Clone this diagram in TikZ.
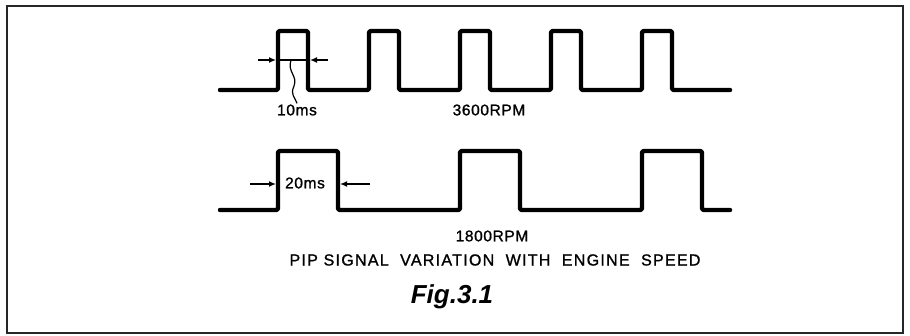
\documentclass[tikz,border=0pt]{standalone}
\usepackage{fontspec}
\setmainfont{Liberation Sans}
\usetikzlibrary{arrows.meta, positioning}

\begin{document}
\begin{tikzpicture}[
        x=1pt,
        y=-1pt,
        frameBox/.style={line width=2.4pt, black!85},
        pulseLine/.style={line width=4.4pt, rounded corners=2pt, line join=round, line cap=round},
        dimLine/.style={line width=1.3pt},
        dimArrow/.style={dimLine, -{Latex[length=7pt, width=6pt]}},
        leader/.style={line width=1.2pt},
        smallLabel/.style={inner sep=1pt, font=\fontsize{15.5}{18}\selectfont\addfontfeature{LetterSpace=4, FakeBold=1.2}},
        titleLabel/.style={inner sep=1pt, font=\fontsize{16}{19}\selectfont\addfontfeature{LetterSpace=8, FakeBold=1.2}},
        figLabel/.style={inner sep=1pt, font=\fontsize{26}{30}\selectfont\bfseries\itshape}
    ]
        \useasboundingbox (0,0) rectangle (910,336);
        \draw[frameBox] (7,6) rectangle (903,333);

        \draw[pulseLine] (220,90) foreach \k in {0,...,4} {
            -- ({278+91*\k},90) -- ({278+91*\k},31) -- ({308+91*\k},31) -- ({308+91*\k},90)
        } -- (730,90);

        \draw[pulseLine] (220,210) foreach \k in {0,...,2} {
            -- ({278+182*\k},210) -- ({278+182*\k},151) -- ({338+182*\k},151) -- ({338+182*\k},210)
        } -- (730,210);

        \coordinate (outA) at (258,60);
        \coordinate (riseA) at (276,60);
        \coordinate (fallA) at (310,60);
        \coordinate (endA) at (328,60);
        \coordinate (tapA) at (291,60);
        \draw[dimLine] (riseA) -- (fallA);
        \draw[dimArrow] (outA) -- (riseA);
        \draw[dimArrow] (endA) -- (fallA);

        \node[smallLabel] (tenMs) at (297,110) {10ms};
        \draw[leader] (tapA) .. controls (287,72) and (298,76) .. (294,86)
            .. controls (290,95) and (295,97) .. (tenMs.north);

        \node[smallLabel] (rpmHigh) at (489,110) {3600RPM};

        \coordinate (outB) at (250,184);
        \coordinate (riseB) at (276,184);
        \coordinate (fallB) at (340,184);
        \coordinate (endB) at (370,184);
        \draw[dimArrow] (outB) -- (riseB);
        \draw[dimArrow] (endB) -- (fallB);
        \node[smallLabel] (twentyMs) at (305,183) {20ms};

        \node[smallLabel] (rpmLow) at (492,236) {1800RPM};
        \node[titleLabel] (caption) at (495,260) {PIP SIGNAL\ \ VARIATION\ \ WITH\ \ ENGINE\ \ SPEED};
        \node[figLabel] (figNo) at (452,297) {Fig.3.1};
\end{tikzpicture}
\end{document}
